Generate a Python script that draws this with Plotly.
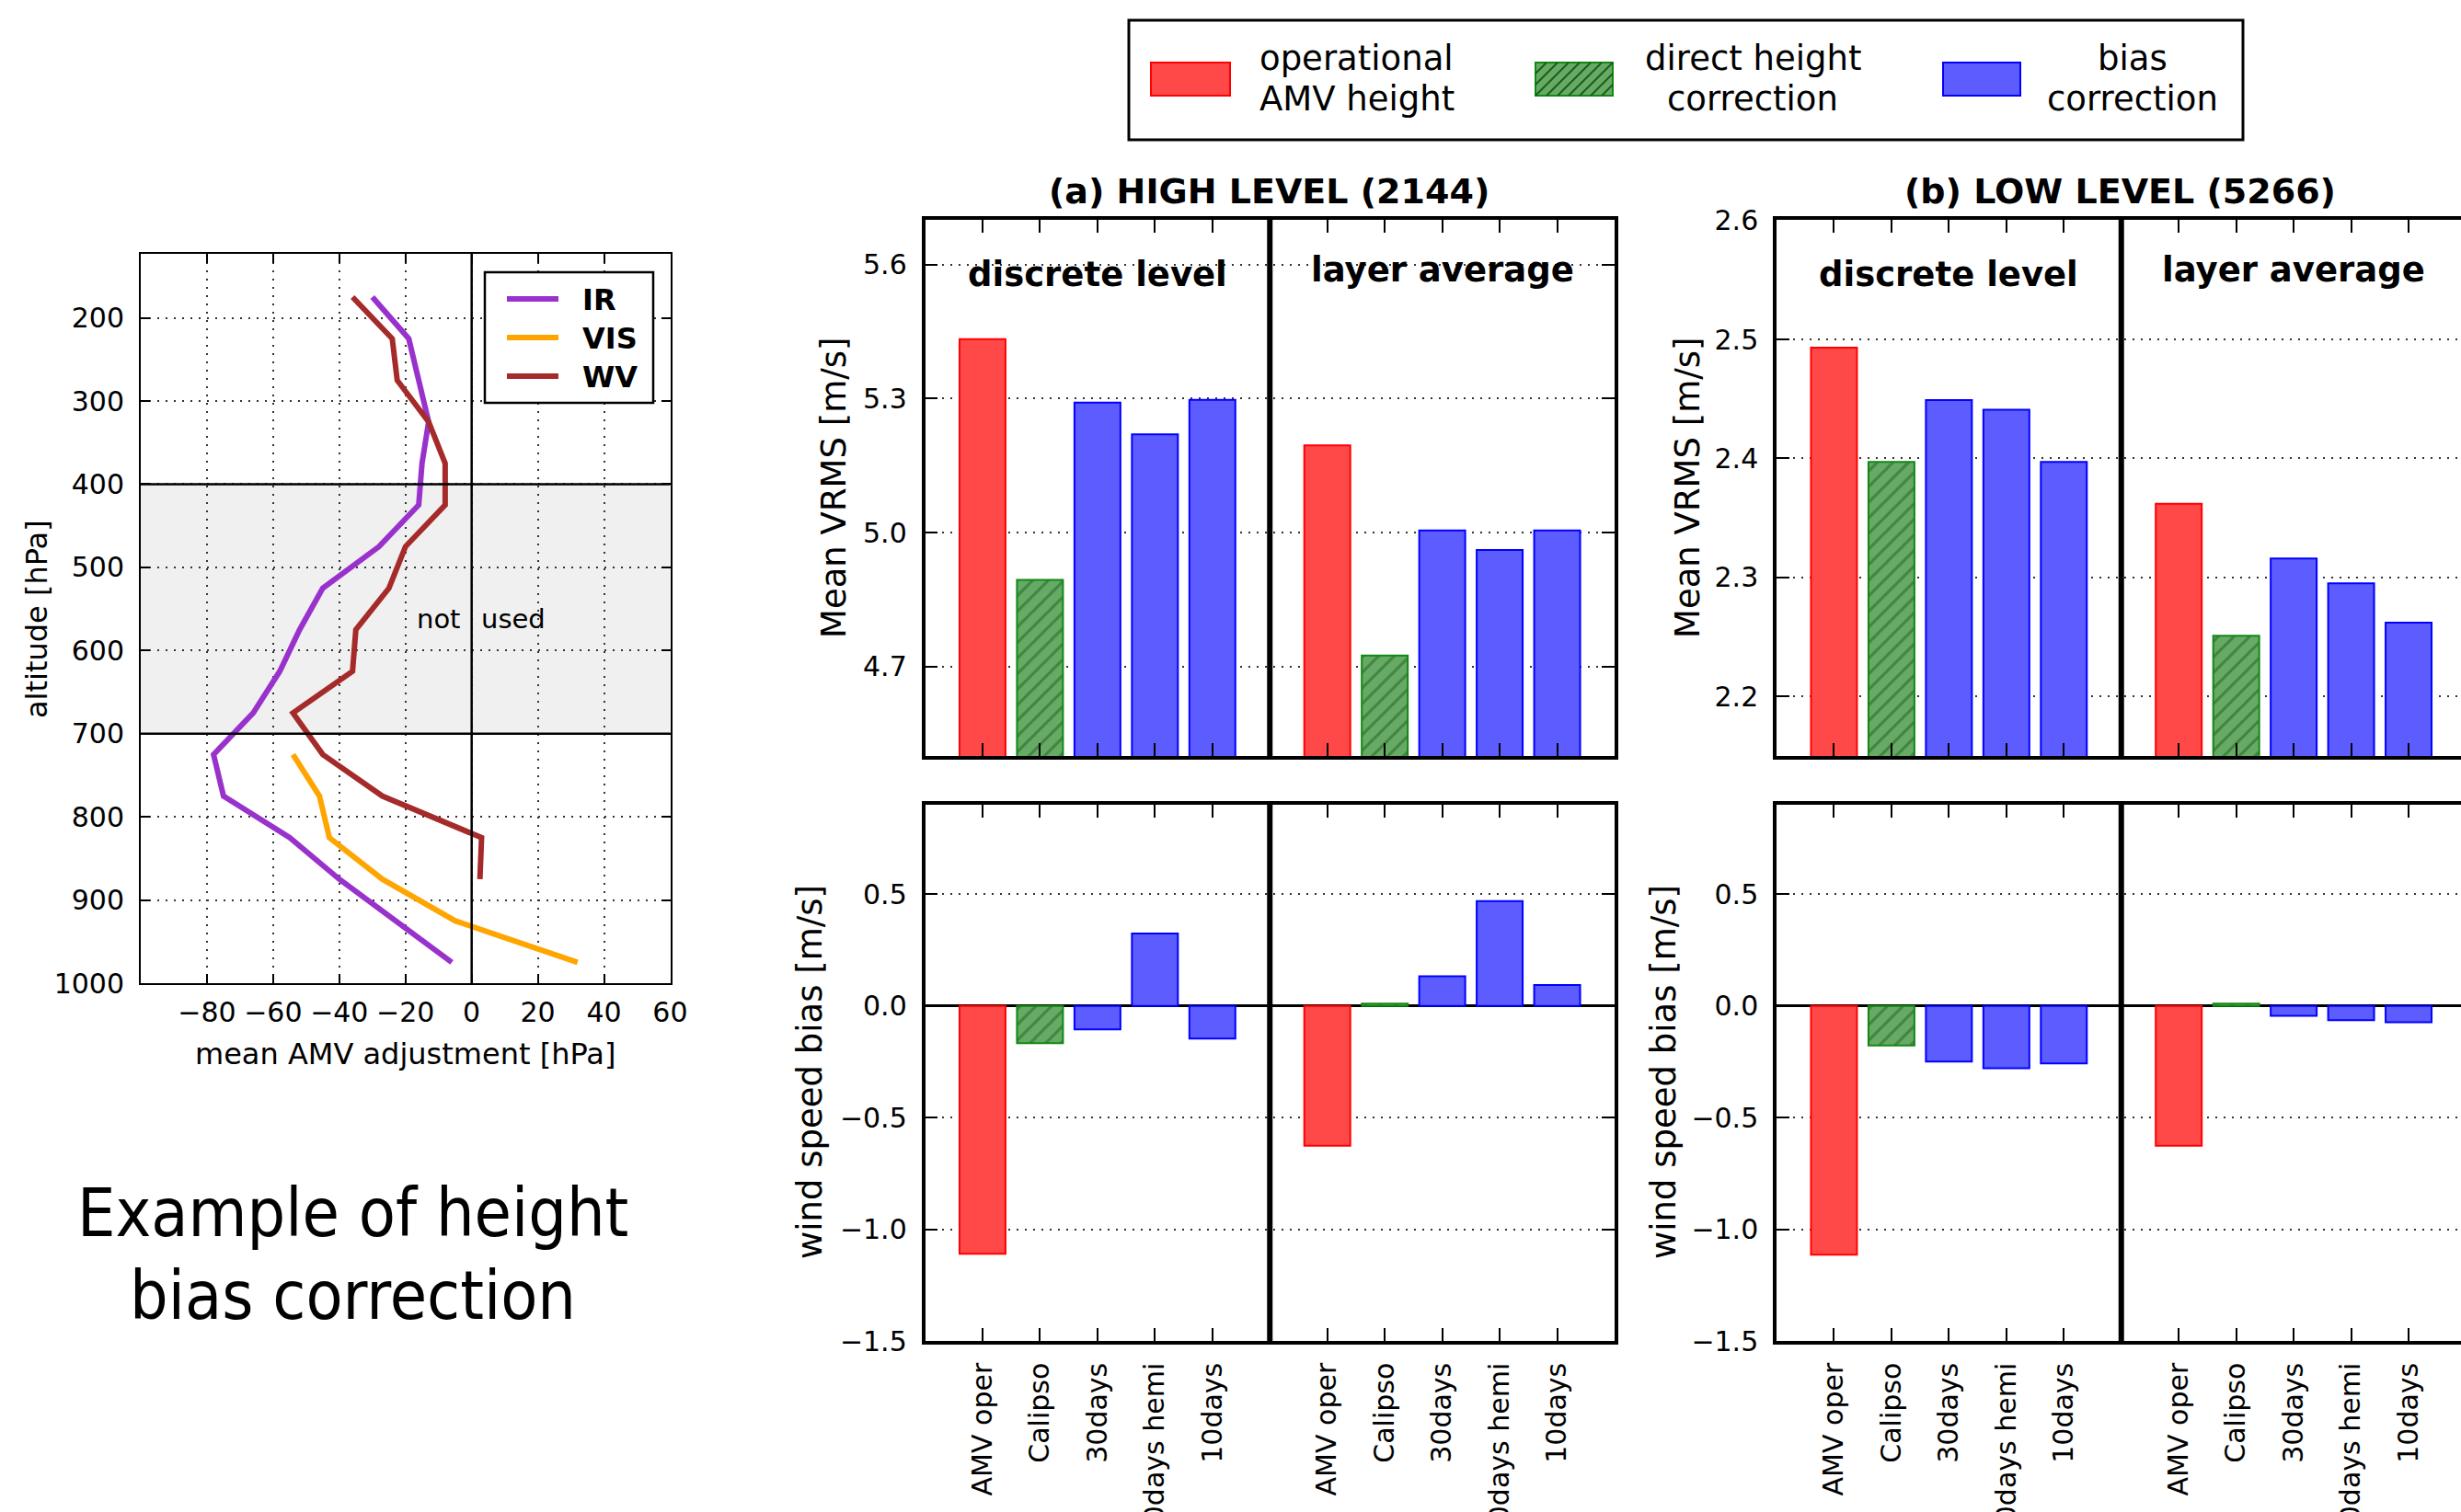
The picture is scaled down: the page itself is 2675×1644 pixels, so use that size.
import plotly.graph_objects as go

W, H = 2675, 1644

# ---------------- data ----------------
ir_pressure = [175, 225, 275, 325, 375, 425, 475, 525, 575, 625, 675, 725, 775, 825, 875, 925, 975]
ir_adj = [-30, -19, -16, -13, -15, -16, -28, -45, -52, -58, -66, -78, -75, -55, -40, -23, -6]
vis_pressure = [725, 775, 825, 875, 925, 975]
vis_adj = [-54, -46, -43, -27, -5, 32]
wv_pressure = [175, 225, 275, 325, 375, 425, 475, 525, 575, 625, 675, 725, 775, 825, 875]
wv_adj = [-36, -24, -22.5, -13, -8, -8, -20, -25, -35, -36, -54, -45, -27, 3, 2.5]

left_xticks = [-80, -60, -40, -20, 0, 20, 40, 60]
left_yticks = [200, 300, 400, 500, 600, 700, 800, 900, 1000]

categories = ["AMV oper", "Calipso", "30days", "10days hemi", "10days"]
discrete_pos = [0, 1, 2, 3, 4]
layer_pos = [6, 7, 8, 9, 10]

high_vrms_discrete = [5.433, 4.894, 5.291, 5.220, 5.297]
high_vrms_layer = [5.195, 4.725, 5.005, 4.961, 5.005]
low_vrms_discrete = [2.493, 2.397, 2.449, 2.441, 2.397]
low_vrms_layer = [2.362, 2.251, 2.316, 2.295, 2.262]
high_bias_discrete = [-1.11, -0.167, -0.105, 0.324, -0.147]
high_bias_layer = [-0.626, 0.01, 0.132, 0.469, 0.093]
low_bias_discrete = [-1.114, -0.178, -0.25, -0.279, -0.258]
low_bias_layer = [-0.626, 0.01, -0.045, -0.064, -0.074]

high_vrms_ticks = [4.7, 5.0, 5.3, 5.6]
low_vrms_ticks = [2.2, 2.3, 2.4, 2.5, 2.6]
bias_ticks = [-1.5, -1.0, -0.5, 0.0, 0.5]

# ---------------- styles ----------------
RED_FILL, RED_EDGE = "#ff4848", "#ff0000"
GREEN_FILL, GREEN_EDGE, GREEN_HATCH = "#66aa66", "#118811", "#1a5e1a"
BLUE_FILL, BLUE_EDGE = "#5c5cff", "#0000ff"
FONT = "DejaVu Sans"
TICK_SIZE = 30


def px(x):
    return x / W


def py(y):
    return 1 - y / H


fig = go.Figure()

# ---- left line plot ----
for name, xs, ys, col in [("IR", ir_adj, ir_pressure, "#9932cc"),
                          ("VIS", vis_adj, vis_pressure, "#ffa500"),
                          ("WV", wv_adj, wv_pressure, "#a52a2a")]:
    fig.add_trace(go.Scatter(x=xs, y=ys, mode="lines", name=name,
                             line=dict(color=col, width=6),
                             xaxis="x", yaxis="y", showlegend=False))

# ---- bar panels ----
panels = [("x2", "y2", high_vrms_discrete, high_vrms_layer),
          ("x3", "y3", high_bias_discrete, high_bias_layer),
          ("x4", "y4", low_vrms_discrete, low_vrms_layer),
          ("x5", "y5", low_bias_discrete, low_bias_layer)]
for xa, ya, d, l in panels:
    fig.add_trace(go.Bar(x=[discrete_pos[0], layer_pos[0]], y=[d[0], l[0]], width=0.8,
                         marker=dict(color=RED_FILL, line=dict(color=RED_EDGE, width=2)),
                         xaxis=xa, yaxis=ya, showlegend=False))
    fig.add_trace(go.Bar(x=[discrete_pos[1], layer_pos[1]], y=[d[1], l[1]], width=0.8,
                         marker=dict(color=GREEN_FILL, line=dict(color=GREEN_EDGE, width=2),
                                     pattern=dict(shape="/", size=12, solidity=0.25,
                                                  fgcolor=GREEN_HATCH, bgcolor=GREEN_FILL)),
                         xaxis=xa, yaxis=ya, showlegend=False))
    fig.add_trace(go.Bar(x=discrete_pos[2:] + layer_pos[2:], y=d[2:] + l[2:], width=0.8,
                         marker=dict(color=BLUE_FILL, line=dict(color=BLUE_EDGE, width=2)),
                         xaxis=xa, yaxis=ya, showlegend=False))

GRID = dict(showgrid=True, gridcolor="#333333", gridwidth=1.6, griddash="2px,7px")

common_axis = dict(showline=True, linecolor="black", ticks="inside", tickcolor="black",
                   zeroline=False, automargin=False,
                   tickfont=dict(size=TICK_SIZE, family=FONT, color="black"))

layout = dict(
    width=W, height=H, margin=dict(l=0, r=0, t=0, b=0),
    paper_bgcolor="white", plot_bgcolor="white", barmode="overlay",
    font=dict(family=FONT, color="black"), showlegend=False,
)

# left axes
layout["xaxis"] = dict(common_axis, domain=[px(153), px(728.5)], range=[-100, 60.01], anchor="y",
                       tickvals=left_xticks, ticklen=10, tickwidth=1.5, linewidth=2, mirror="ticks",
                       ticklabelstandoff=4, **GRID)
layout["yaxis"] = dict(common_axis, domain=[py(1069), py(276)], range=[1000, 123], anchor="x",
                       tickvals=left_yticks, ticklen=10, tickwidth=1.5, linewidth=2, mirror="ticks",
                       ticklabelstandoff=10, **GRID)

xa_dom = [px(1005.5), px(1755)]
xb_dom = [px(1931), 1.0]
top_dom = [py(822), py(239)]
bot_dom = [py(1458), py(875)]
xb_range = [-1, -1 + 12 * (W - 1931) / 749.5]

bar_x = dict(common_axis, tickvals=discrete_pos + layer_pos, ticklen=14, tickwidth=2, linewidth=3.5,
             showgrid=False)
bar_y = dict(common_axis, ticklen=14, tickwidth=2, linewidth=3.5, tickformat=".1f",
             ticklabelstandoff=10, **GRID)

layout["xaxis2"] = dict(bar_x, domain=xa_dom, range=[-1, 11], anchor="y2", mirror="ticks",
                        showticklabels=False)
layout["yaxis2"] = dict(bar_y, domain=top_dom, range=[4.5, 5.7], anchor="x2", mirror="ticks",
                        tickvals=high_vrms_ticks)
layout["xaxis3"] = dict(bar_x, domain=xa_dom, range=[-1, 11], anchor="y3", mirror="ticks",
                        ticktext=categories + categories, tickangle=-90, ticklabelstandoff=8)
layout["yaxis3"] = dict(bar_y, domain=bot_dom, range=[-1.5, 0.9], anchor="x3", mirror="ticks",
                        tickvals=bias_ticks)
layout["yaxis3"].update(zeroline=True, zerolinecolor="black", zerolinewidth=2.5)
layout["xaxis4"] = dict(bar_x, domain=xb_dom, range=xb_range, anchor="y4", mirror="ticks",
                        showticklabels=False)
layout["yaxis4"] = dict(bar_y, domain=top_dom, range=[2.15, 2.6005], anchor="x4", mirror=False,
                        tickvals=low_vrms_ticks)
layout["xaxis5"] = dict(bar_x, domain=xb_dom, range=xb_range, anchor="y5", mirror="ticks",
                        ticktext=categories + categories, tickangle=-90, ticklabelstandoff=8)
layout["yaxis5"] = dict(bar_y, domain=bot_dom, range=[-1.5, 0.9], anchor="x5", mirror=False,
                        tickvals=bias_ticks)
layout["yaxis5"].update(zeroline=True, zerolinecolor="black", zerolinewidth=2.5)

fig.update_layout(**layout)

# ---------------- shapes ----------------
shapes = []
# left: "not used" band and reference lines
shapes.append(dict(type="rect", xref="x", yref="y", x0=-100, x1=60, y0=400, y1=700,
                   fillcolor="#f0f0f0", line=dict(width=0), layer="below"))
for yv in (400, 700):
    shapes.append(dict(type="line", xref="x domain", yref="y", x0=0, x1=1, y0=yv, y1=yv,
                       line=dict(color="black", width=2.5)))
shapes.append(dict(type="line", xref="x", yref="y domain", x0=0, x1=0, y0=0, y1=1,
                   line=dict(color="black", width=2.5)))
# dividers between discrete / layer blocks
for n in (2, 3, 4, 5):
    shapes.append(dict(type="line", xref=f"x{n}", yref=f"y{n} domain", x0=5, x1=5, y0=0, y1=1,
                       line=dict(color="black", width=6)))


def prect(x0, y0, x1, y1, **kw):
    return dict(type="rect", xref="paper", yref="paper", x0=px(x0), x1=px(x1), y0=py(y1), y1=py(y0), **kw)


# left legend
shapes.append(prect(527, 296, 710, 438, fillcolor="white", line=dict(color="black", width=2.5)))
for yy, col in [(325, "#9932cc"), (367, "#ffa500"), (409, "#a52a2a")]:
    shapes.append(dict(type="line", xref="paper", yref="paper", x0=px(551), x1=px(607),
                       y0=py(yy), y1=py(yy), line=dict(color=col, width=6)))

# top legend
shapes.append(prect(1227, 22, 2438, 152, fillcolor="white", line=dict(color="black", width=3)))
shapes.append(prect(1251, 68, 1337, 104, fillcolor=RED_FILL, line=dict(color=RED_EDGE, width=2)))
shapes.append(prect(1669, 68, 1753, 104, fillcolor=GREEN_FILL, line=dict(color=GREEN_EDGE, width=2)))
# hatch for green swatch
gx0, gy0, gx1, gy1 = 1669, 68, 1753, 104
hh = gy1 - gy0
segs = []
k = gx0 - hh
while k < gx1:
    sx, sy = k, gy1
    ex, ey = k + hh, gy0
    if sx < gx0:
        sy = gy1 - (gx0 - sx)
        sx = gx0
    if ex > gx1:
        ey = gy0 + (ex - gx1)
        ex = gx1
    if ex > sx:
        segs.append(f"M{px(sx):.5f},{py(sy):.5f} L{px(ex):.5f},{py(ey):.5f}")
    k += 12
shapes.append(dict(type="path", xref="paper", yref="paper", path=" ".join(segs),
                   line=dict(color=GREEN_HATCH, width=2)))
shapes.append(prect(2112, 68, 2196, 104, fillcolor=BLUE_FILL, line=dict(color=BLUE_EDGE, width=2)))

fig.update_layout(shapes=shapes)

# ---------------- annotations ----------------
ann = []


def ptext(text, x, y, size, xanchor="center", angle=0, bold=False, family=FONT):
    t = f"<b>{text}</b>" if bold else text
    ann.append(dict(text=t, xref="paper", yref="paper", x=px(x), y=py(y), xanchor=xanchor,
                    yanchor="middle", showarrow=False, textangle=angle,
                    font=dict(size=size, family=family, color="black")))


# left plot texts
ptext("altitude [hPa]", 40, 673, 32, angle=-90)
ptext("mean AMV adjustment [hPa]", 440, 1146, 32)
ptext("not", 503, 673, 29, xanchor="right")
ptext("used", 521, 673, 29, xanchor="left")
ptext("IR", 631, 326, 32, xanchor="left", bold=True)
ptext("VIS", 631, 368, 32, xanchor="left", bold=True)
ptext("WV", 631, 410, 32, xanchor="left", bold=True)
slide_font = "DejaVu Sans Condensed, Liberation Sans Narrow, DejaVu Sans"
ptext("Example of height", 383, 1318, 73, family=slide_font)
ptext("bias correction", 383, 1408, 73, family=slide_font)

# top legend labels
for cx, l1, l2 in [(1475, "operational", "AMV height"),
                   (1905, "direct height", "correction"),
                   (2318, "bias", "correction")]:
    ptext(l1, cx, 63, 37)
    ptext(l2, cx, 107, 37)

# panel titles
ptext("(a) HIGH LEVEL (2144)", 1379, 208, 38, bold=True)
ptext("(b) LOW LEVEL (5266)", 2304, 208, 38, bold=True)

# axis titles for bar panels
ptext("Mean VRMS [m/s]", 906, 531, 37, angle=-90)
ptext("Mean VRMS [m/s]", 1834, 531, 37, angle=-90)
ptext("wind speed bias [m/s]", 880, 1166, 37, angle=-90)
ptext("wind speed bias [m/s]", 1808, 1166, 37, angle=-90)

# block labels inside top panels
for xa in ("x2", "x4"):
    ann.append(dict(text="<b>discrete level</b>", xref=xa, yref="paper", x=2, y=py(299),
                    xanchor="center", yanchor="middle", showarrow=False,
                    font=dict(size=37, family=FONT, color="black")))
    ann.append(dict(text="<b>layer average</b>", xref=xa, yref="paper", x=8, y=py(294),
                    xanchor="center", yanchor="middle", showarrow=False,
                    font=dict(size=37, family=FONT, color="black")))

fig.update_layout(annotations=ann)

fig.write_html("out.html")
